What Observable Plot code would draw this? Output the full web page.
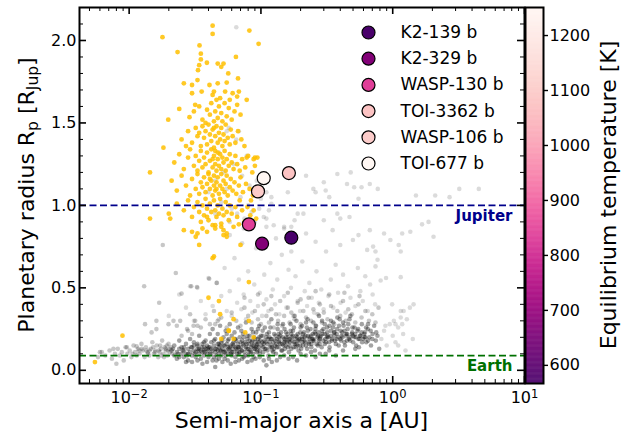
<!DOCTYPE html>
<html>
<head>
<meta charset="utf-8">
<script src="https://cdn.jsdelivr.net/npm/d3@7"></script>
<script src="https://cdn.jsdelivr.net/npm/@observablehq/plot@0.6"></script>
<style>
  html, body { margin: 0; padding: 0; background: white; }
  #wrap { position: relative; width: 631px; height: 432px; }
  #cbar { position: absolute; left: 524px; top: 0; }
</style>
</head>
<body>
<div id="wrap"><div id="main"></div><div id="cbar"></div></div>
<script>
// ---------- highlighted planets ----------
const planetNames = ["K2-139 b", "K2-329 b", "WASP-130 b", "TOI-3362 b", "WASP-106 b", "TOI-677 b"];
const planetA     = [0.170, 0.102, 0.081, 0.163, 0.095, 0.105];
const planetR     = [0.804, 0.768, 0.885, 1.196, 1.085, 1.165];
const planetTeq   = [567, 665, 840, 1080, 1105, 1251];

// ---------- tick values / labels ----------
const xMajor = [0.01, 0.1, 1, 10];
const xMajorLabels = [["10", "−2"], ["10", "−1"], ["10", "0"], ["10", "1"]];
const yMajor = [0, 0.5, 1.0, 1.5, 2.0];
const yMajorLabels = ["0.0", "0.5", "1.0", "1.5", "2.0"];
const cbTicks = [600, 700, 800, 900, 1000, 1100, 1200];
const refLines = [1.0, 0.0892];
const refNames = ["Jupiter", "Earth"];

// ---------- background population (gray) [a AU, Rp RJup] ----------
const grayTail = [
[.0058,.08],[.0060,.11],[.0062,.11],[.0066,.09],[.0071,.12],[.0074,.07],[.0076,.13],[.0078,.10],[.0080,.04],[.0082,.13],
[.0085,.09],[.0088,.11],[.0091,.06],[.0094,.14],[.0096,.14],[.0097,.10],[.0101,.12],[.0104,.08],[.0108,.15],[.0111,.11],
[.0114,.09],[.0114,.145],[.0117,.13],[.0120,.10],[.0124,.16],[.0127,.12],[.0131,.08],[.0134,.14],[.0138,.11],[.0142,.09],
[.0146,.13],[.0150,.17],[.0154,.10],[.0158,.12],[.0162,.15],[.0166,.08],[.0170,.11],[.0174,.13],[.0178,.18],[.0182,.10],
[.0186,.14],[.0190,.12],[.0195,.09],[.0199,.16],[.0204,.11],[.0132,.28],[.0161,.30],[.0161,.25],[.0148,.23],[.0199,.28],
[.0230,.27],[.0217,.30],[.0244,.30],[.0290,.34],[.0317,.30],[.0308,.27],[.0275,.25],[.0180,.76],[.0226,.59],[.0130,.51],
[.0169,.41],[.0250,.465],[.0296,.51],[.0327,.505],[.0405,.555],[.0463,.53],
[.0135,.12],[.0152,.14],[.0168,.12],[.0176,.09],[.0188,.13],[.0193,.15],[.0201,.13],[.0157,.11],[.0143,.12],[.0125,.13],
[.0106,.10],[.0119,.12],[.0139,.10],[.0172,.15],[.0184,.08],[.0197,.12],[.0208,.14],[.0212,.10]
];
const grayCore = [
[.021,.12],[.022,.09],[.022,.15],[.023,.11],[.023,.07],[.024,.13],[.024,.18],[.025,.10],[.025,.14],[.026,.08],
[.026,.12],[.027,.16],[.027,.10],[.028,.13],[.028,.06],[.029,.11],[.029,.19],[.030,.09],[.030,.14],[.031,.12],
[.031,.17],[.032,.08],[.032,.11],[.033,.15],[.033,.13],[.034,.10],[.034,.21],[.035,.12],[.035,.07],[.036,.16],
[.036,.11],[.037,.14],[.037,.09],[.038,.13],[.038,.18],[.039,.10],[.039,.15],[.040,.12],[.040,.08],[.041,.22],
[.0215,.13],[.0235,.10],[.0255,.12],[.0275,.09],[.0295,.14],[.0315,.10],[.0335,.12],[.0355,.14],[.0375,.11],[.0395,.13],
[.041,.14],[.042,.10],[.042,.17],[.043,.12],[.043,.25],[.044,.08],[.044,.15],[.045,.11],[.045,.19],[.046,.13],
[.046,.06],[.047,.16],[.047,.22],[.048,.10],[.048,.14],[.049,.12],[.049,.27],[.050,.17],[.050,.09],[.051,.13],
[.052,.20],[.052,.11],[.053,.15],[.053,.07],[.054,.12],[.054,.24],[.055,.16],[.056,.10],[.056,.14],[.057,.19],
[.058,.12],[.058,.28],[.059,.15],[.060,.09],[.060,.21],[.061,.13],[.062,.17],[.062,.11],[.063,.23],[.064,.14],
[.064,.08],[.065,.18],[.066,.12],[.067,.16],[.067,.26],[.068,.10],[.069,.20],[.070,.14],[.071,.12],[.072,.18],
[.072,.07],[.073,.22],[.074,.15],[.075,.11],[.076,.17],[.077,.29],[.078,.13],[.079,.19],[.080,.09],[.081,.16],
[.082,.21],[.083,.12],[.084,.14],[.085,.25],[.086,.18],[.087,.10],[.088,.15],[.089,.20],[.090,.13],[.091,.17],
[.092,.23],[.093,.11],[.094,.16],[.095,.19],[.096,.14],[.097,.27],[.098,.12],[.099,.18],
[.101,.15],[.103,.21],[.104,.11],[.106,.18],[.107,.26],[.109,.13],[.110,.20],[.112,.16],[.114,.09],[.115,.23],
[.117,.14],[.119,.19],[.120,.31],[.122,.12],[.124,.17],[.126,.22],[.128,.15],[.130,.10],[.132,.19],[.134,.25],
[.136,.14],[.138,.18],[.140,.21],[.143,.12],[.145,.16],[.147,.28],[.150,.19],[.152,.13],[.155,.23],[.157,.17],
[.160,.20],[.163,.11],[.165,.15],[.168,.24],[.171,.18],[.174,.21],[.177,.14],[.180,.33],[.183,.19],[.186,.16],
[.190,.22],[.193,.12],[.196,.18],[.200,.26],[.204,.20],[.208,.15],[.212,.23],[.216,.17],[.220,.29],[.224,.13],
[.228,.21],[.233,.19],[.238,.25],[.242,.16],[.247,.22],[.252,.18],[.257,.12],[.262,.27],[.268,.20],[.273,.23],
[.279,.16],[.285,.21],[.291,.30],[.297,.18],
[.105,.16],[.113,.19],[.121,.14],[.129,.21],[.137,.17],[.146,.20],[.154,.15],[.162,.18],[.170,.22],[.179,.17],
[.188,.20],[.198,.15],[.206,.19],[.218,.21],[.231,.17],[.245,.19],[.260,.22],[.275,.18],[.290,.24],
[.305,.22],[.312,.17],[.318,.26],[.325,.20],[.332,.14],[.339,.24],[.346,.19],[.354,.29],[.362,.21],[.370,.16],
[.378,.25],[.387,.20],[.396,.31],[.405,.18],[.414,.23],[.424,.27],[.434,.15],[.444,.21],[.455,.25],[.466,.19],
[.477,.33],[.489,.22],[.501,.17],[.513,.26],[.526,.20],[.540,.24],[.554,.14],[.568,.21],[.583,.28],[.598,.19],
[.614,.23],[.630,.17],[.647,.25],[.665,.20],[.684,.15],[.703,.22],[.723,.27],[.744,.18],[.766,.21],[.790,.13],
[.32,.21],[.36,.23],[.40,.19],[.45,.22],[.50,.21],[.56,.19],[.62,.20],[.68,.24],
[.042,.13],[.044,.18],[.046,.09],[.048,.16],[.050,.12],[.052,.15],[.054,.09],[.056,.18],[.058,.14],[.060,.11],
[.062,.15],[.064,.19],[.066,.10],[.068,.14],[.070,.17],[.072,.12],[.074,.20],[.076,.09],[.078,.16],[.080,.13],
[.082,.18],[.084,.11],[.086,.15],[.088,.08],[.090,.19],[.092,.14],[.094,.12],[.096,.17],[.098,.10],[.100,.21],
[.104,.14],[.108,.17],[.112,.12],[.116,.20],[.120,.15],[.124,.11],[.128,.18],[.132,.14],[.136,.22],[.140,.16],
[.145,.12],[.150,.17],[.155,.20],[.160,.14],[.165,.19],[.170,.13],[.175,.24],[.180,.16],[.185,.21],[.190,.15],
[.196,.19],[.202,.13],[.208,.22],[.214,.18],[.220,.15],[.227,.24],[.234,.20],[.241,.14],[.248,.18],[.256,.23],
[.264,.16],[.272,.21],[.280,.19],[.289,.14],[.298,.25],[.308,.19],[.318,.23],[.329,.17],[.340,.21],[.352,.26],
[.364,.18],[.376,.22],[.389,.15],[.402,.24],[.416,.20],[.430,.17],[.445,.22],[.460,.28],[.476,.18],[.493,.23],
[.510,.20],[.528,.15],[.547,.25],[.566,.21],[.586,.17],[.607,.22],[.628,.26],[.650,.18],
[.033,.16],[.037,.12],[.041,.10],[.045,.13],[.049,.15],[.053,.11],[.057,.13],[.061,.16],[.065,.13],[.069,.11],
[.073,.16],[.077,.14],[.081,.11],[.085,.17],[.089,.13],[.093,.15],[.097,.20],[.102,.17],[.107,.13],[.111,.22],
[.116,.17],[.121,.19],[.126,.13],[.131,.16],[.137,.20],[.142,.23],[.148,.15],[.153,.18],[.159,.22],[.166,.17],
[.172,.20],[.178,.26],[.184,.14],[.191,.18],[.199,.23],[.207,.17],[.215,.20],[.223,.26],[.232,.16],[.241,.21],
[.250,.19],[.259,.25],[.270,.15],[.281,.20],[.293,.22],[.305,.16],[.318,.20],[.331,.27],[.345,.18],[.360,.23],
[.375,.19],[.392,.27],[.410,.21],[.430,.24],[.450,.18],[.472,.20],[.495,.26],[.520,.22],[.550,.19],[.580,.23],
[.610,.20],[.650,.28],[.700,.19],[.750,.23],
[.055,.22],[.063,.19],[.071,.24],[.079,.21],[.087,.23],[.095,.25],[.103,.24],[.118,.26],[.134,.28],[.151,.25],
[.168,.28],[.186,.30],[.205,.27],[.226,.31],[.250,.29],[.276,.33],[.305,.28],[.340,.30],[.380,.32],[.420,.29],[.470,.31],
[.026,.14],[.028,.10],[.031,.15],[.034,.13],[.037,.17],[.040,.14],[.047,.12],[.051,.18],[.059,.10],[.067,.14],
[.030,.05],[.036,.04],[.043,.06],[.051,.05],[.059,.04],[.068,.06],[.079,.05],[.091,.07],[.105,.06],[.121,.05],
[.140,.08],[.162,.07],[.188,.06],[.220,.09],[.260,.08],[.310,.10],[.370,.09],[.045,.02],[.110,.03],
[.024,.08],[.027,.05],[.033,.06],[.039,.05],[.048,.07],[.056,.06],[.064,.05],[.074,.08],[.085,.06],[.098,.08],
[.115,.07],[.132,.06],[.150,.09],[.175,.08],[.200,.10],[.240,.11],[.280,.10],[.330,.12],[.420,.12],[.520,.13]
];
const grayMid = [
[.045,.28],[.050,.32],[.055,.26],[.060,.35],[.065,.30],[.070,.27],[.075,.38],[.080,.33],[.085,.29],[.090,.36],
[.095,.31],[.100,.28],[.105,.40],[.110,.33],[.115,.29],[.120,.37],[.125,.26],[.130,.34],[.135,.30],[.140,.42],
[.145,.27],[.150,.33],[.160,.38],[.165,.29],[.170,.35],[.180,.31],[.190,.41],[.200,.28],[.210,.36],[.220,.32],
[.230,.44],[.240,.30],[.250,.37],[.260,.27],[.270,.34],[.280,.40],[.290,.29],[.300,.35],[.320,.31],[.340,.39],
[.360,.28],[.380,.36],[.400,.33],[.420,.42],[.440,.30],[.460,.37],[.490,.34],[.520,.29],[.550,.40],[.580,.32],
[.620,.36],[.660,.30],[.700,.34],[.740,.29],[.780,.38],
[.035,.26],[.038,.31],[.041,.28],[.044,.36],[.047,.30],[.030,.22],[.025,.21],[.028,.24],[.033,.27],
[.120,.45],[.160,.47],[.200,.43],[.260,.48],[.330,.46],[.430,.47],[.560,.45],[.095,.46],[.075,.44]
];
const graySparse = [
[.020,.33],[.024,.46],[.027,.38],[.029,.51],[.031,.30],[.033,.50],[.035,.42],[.038,.34],[.040,.56],[.043,.39],
[.046,.53],[.048,.31],[.050,.45],[.053,.62],[.055,.36],[.058,.48],[.060,.33],[.063,.68],[.066,.41],[.068,.55],
[.071,.37],[.074,.46],[.077,.31],[.080,.60],[.083,.42],[.086,.35],[.089,.52],[.092,.74],[.095,.39],[.098,.47],
[.102,.33],[.106,.58],[.110,.43],[.114,.36],[.118,.65],[.123,.49],[.128,.40],[.133,.55],[.138,.34],[.144,.70],
[.150,.45],[.156,.38],[.162,.61],[.169,.50],[.176,.33],[.183,.57],[.190,.42],[.198,.36],[.206,.66],[.215,.48],
[.224,.39],[.233,.53],[.243,.44],[.253,.35],[.264,.60],[.275,.41],[.287,.49],[.299,.37],[.312,.72],[.325,.45],
[.339,.55],[.354,.38],[.369,.64],[.385,.47],[.402,.41],[.420,.58],[.439,.35],[.458,.51],[.478,.44],[.499,.79],
[.521,.39],[.544,.62],[.568,.48],[.593,.42],[.619,.57],[.646,.36],[.674,.52],[.704,.46],[.735,.40],[.767,.67],
[.058,.82],[.072,.77],[.085,.88],[.110,.92],[.130,.80],[.150,.86],[.170,.72],[.190,.95],[.220,.83],[.260,.78],
[.300,.91],[.350,.85],[.400,.76],[.470,.93],[.550,.82],[.640,.73],[.670,.85],[.710,.75],[.740,.72],[.740,.63],
[.860,.83],[.960,.79],[1.11,.76],[1.15,.72],[1.18,.83],[1.36,.84],[1.67,.885],[1.87,.90],[2.04,.81],[.890,.56],
[.810,.545],[1.15,.565],[.990,.40],[1.44,.40],[1.21,.36],[1.15,.32],[1.02,.30],[1.05,.28],[1.18,.28],[.880,.27],
[.82,.19],[.86,.24],[.90,.15],[.95,.28],[1.00,.21],[1.05,.17],[1.10,.26],[1.15,.36],[1.20,.22],[1.28,.31],
[1.35,.38],[1.42,.19],[1.10,.15],[1.25,.12]
];
const grayGiants = [
[.045,.95],[.050,1.02],[.055,1.10],[.060,.98],[.062,1.25],[.065,1.40],[.068,1.45],[.070,1.05],[.072,1.18],[.075,.92],
[.078,1.30],[.080,1.00],[.082,1.12],[.085,.96],[.088,1.07],[.090,.90],[.093,1.15],[.097,.98],[.100,1.04],[.105,.93],
[.110,1.08],[.115,.97],[.120,1.01],[.125,.88],[.058,.90],[.066,.95],[.074,.86],[.052,1.20],[.048,1.32],[.040,1.08],
[.045,1.15],[.055,1.45],[.057,1.47],[.065,2.08],
[.22,1.18],[.38,1.19],[.48,1.20],[.30,1.14],[.31,1.09],[.51,1.11],[.58,1.11],[.38,.95],[.40,.92],[.21,.95],
[.18,.91],[.17,.87],[.15,.87],[.11,.87],[.12,1.05],[.16,1.08],[.55,1.04],[.67,1.13],
[.25,1.10],[.26,1.08],[.33,1.05],[.45,1.13],[1.50,1.06],[3.20,1.10],[.77,1.10],[2.10,1.06],[2.70,1.05],[4.50,1.10]
];

// ---------- hot Jupiters (yellow) [a AU, Rp RJup] ----------
const yellowOther = [
[.0055,.05],[.0089,.21],[.0144,1.20],[.0144,.92],[.0182,1.35],[.0205,.92],[.0179,2.02],[.0233,1.93],[.0198,1.52],[.024,1.585],
[.0287,1.535],[.026,1.74],[.030,1.73],[.030,1.68],[.0317,1.61],[.0333,1.82],[.033,1.76],[.0342,1.97],[.035,1.92],[.035,1.885],
[.034,1.85],[.0389,1.865],[.043,2.09],[.043,2.04],[.0817,2.06],[.096,1.98],[.047,1.86],[.052,1.86],[.050,1.84],[.0646,1.90],
[.0565,1.80],[.067,1.77],[.0407,1.73],[.047,1.74],[.055,1.745],[.0355,1.69],[.044,1.69],[.043,1.67],[.0535,1.69],[.061,1.68],
[.066,1.66],[.068,1.69],[.078,1.64],
[.034,.76],[.044,.69],[.043,.68],[.040,.44],[.048,.42],[.049,.34],[.057,.24],[.050,.19],
[.026,.85],[.030,.84],[.033,.83],[.036,.86],[.039,.84],[.032,.81],[.045,.88],[.052,.85],[.055,.83],
[.052,.82],[.055,.81],[.070,.76],[.081,.535],[.062,.31],[.081,.30],[.057,.24],[.076,.23],[.088,.20],[.062,.19],
[.050,.87],[.068,.885],[.078,1.29],[.090,1.29],[.090,1.24],[.086,1.20],[.084,1.03]
];
const yellowHJ = [
[.036,1.52],[.039,1.58],[.041,1.55],[.042,1.62],[.044,1.51],[.045,1.57],[.046,1.64],[.047,1.53],[.048,1.60],[.050,1.56],
[.051,1.51],[.053,1.62],[.055,1.54],[.057,1.59],[.060,1.52],[.063,1.57],[.066,1.61],[.034,1.60],[.038,1.50],[.049,1.65],
[.031,1.57],[.058,1.64],[.070,1.55],
[.025,1.40],[.028,1.45],[.030,1.38],[.032,1.47],[.033,1.42],[.035,1.36],[.036,1.48],[.037,1.41],[.038,1.45],[.039,1.37],
[.040,1.49],[.041,1.43],[.042,1.39],[.043,1.46],[.044,1.35],[.045,1.42],[.046,1.48],[.047,1.38],[.048,1.44],[.049,1.40],
[.050,1.47],[.051,1.36],[.052,1.43],[.053,1.39],[.054,1.49],[.056,1.41],[.058,1.37],[.059,1.46],[.061,1.42],[.064,1.38],
[.067,1.45],[.071,1.40],[.075,1.36],[.027,1.36],[.034,1.44],[.044,1.47],
[.022,1.26],[.024,1.31],[.026,1.22],[.028,1.29],[.029,1.34],[.031,1.24],[.032,1.30],[.033,1.21],[.034,1.27],[.035,1.33],
[.036,1.23],[.037,1.29],[.038,1.25],[.039,1.32],[.040,1.20],[.041,1.27],[.042,1.34],[.043,1.23],[.044,1.30],[.045,1.25],
[.045,1.33],[.046,1.21],[.047,1.28],[.048,1.24],[.049,1.31],[.050,1.22],[.051,1.29],[.052,1.26],[.053,1.33],[.054,1.21],
[.055,1.28],[.057,1.24],[.058,1.31],[.060,1.26],[.062,1.22],[.064,1.30],[.066,1.25],[.069,1.21],[.072,1.28],[.076,1.23],
[.080,1.30],[.088,1.28],[.094,1.29],[.043,1.28],[.047,1.32],
[.021,1.15],[.023,1.09],[.025,1.18],[.027,1.12],[.029,1.06],[.030,1.16],[.032,1.10],[.033,1.19],[.034,1.07],[.035,1.14],
[.036,1.11],[.037,1.17],[.038,1.08],[.039,1.13],[.040,1.19],[.041,1.10],[.042,1.15],[.043,1.06],[.044,1.12],[.044,1.18],
[.045,1.09],[.046,1.14],[.047,1.17],[.048,1.07],[.049,1.12],[.050,1.19],[.051,1.10],[.052,1.15],[.053,1.08],[.054,1.13],
[.055,1.18],[.056,1.06],[.058,1.11],[.059,1.16],[.061,1.09],[.063,1.14],[.065,1.07],[.068,1.12],[.070,1.17],[.073,1.08],
[.077,1.13],[.082,1.10],[.087,1.06],[.046,1.10],[.041,1.16],
[.020,.95],[.023,1.01],[.026,.97],[.028,1.03],[.030,.93],[.031,.99],[.033,1.02],[.034,.96],[.035,.90],[.036,1.00],
[.037,.94],[.038,1.04],[.039,.98],[.040,.91],[.041,1.01],[.042,.96],[.043,.88],[.044,1.03],[.045,.97],[.046,.93],
[.047,1.00],[.048,.95],[.049,1.04],[.050,.89],[.051,.98],[.052,.94],[.054,1.02],[.055,.96],[.057,.91],[.058,1.00],
[.060,.95],[.062,.87],[.064,.99],[.066,.93],[.069,1.03],[.072,.97],[.075,.90],[.079,.99],[.083,.94],[.088,.97],
[.092,.92],[.039,.93],[.045,.86]
];

// ---------- build ----------
const graySoft = [...graySparse, ...grayGiants];
const yellow = [...yellowOther, ...yellowHJ];
const planets = planetNames.map((name, i) => ({name, a: planetA[i], r: planetR[i], teq: planetTeq[i]}));
const refs = refLines.map((v, i) => ({v, name: refNames[i]}));

const W = 631, H = 432, mL = 79, mR = 107, mT = 7, mB = 49;
const fw = W - mL - mR, fh = H - mT - mB;
const tDomain = [567, 1251];
const colorOpts = {scheme: "RdPu", reverse: true, domain: tDomain};

const xMinor = [];
for (const d of [0.001, 0.01, 0.1, 1]) for (let k = 2; k <= 9; k++) { const v = d * k; if (v >= 0.0042 && v <= 10) xMinor.push(v); }
const yMinor = [];
for (let k = 0; k <= 22; k++) if (k % 5 !== 0) yMinor.push(k / 10);

const legendMarks = [];
planets.forEach((p, i) => {
  const dy = 25 + i * 26.2;
  legendMarks.push(Plot.dot([p], {frameAnchor: "top-left", dx: 289, dy, r: 6.5, fill: "teq", stroke: "black", strokeWidth: 1.2}));
  legendMarks.push(Plot.text([p], {frameAnchor: "top-left", dx: 321, dy, text: "name", textAnchor: "start", lineAnchor: "middle", fontSize: 17, fill: "black"}));
});

const gdot = (data, op) => Plot.dot(data, {x: d => d[0], y: d => d[1], r: 2.3, fill: "black", fillOpacity: op});

const main = Plot.plot({
  width: W, height: H, marginLeft: mL, marginRight: mR, marginTop: mT, marginBottom: mB,
  style: {fontFamily: "DejaVu Sans", fontSize: "16px", background: "white", color: "black", overflow: "visible"},
  x: {type: "log", domain: [0.0042, 10]},
  y: {domain: [-0.08, 2.2]},
  color: colorOpts,
  marks: [
    gdot(graySoft, 0.14),
    gdot(grayTail, 0.22),
    gdot(grayMid, 0.22),
    gdot(grayCore, 0.36),
    Plot.dot(yellow, {x: d => d[0], y: d => d[1], r: 2.4, fill: "#ffc000", fillOpacity: 0.85}),
    Plot.ruleY([refs[0]], {y: "v", stroke: "#00008b", strokeWidth: 1.8, strokeDasharray: "7,3.5"}),
    Plot.ruleY([refs[1]], {y: "v", stroke: "#007000", strokeWidth: 1.8, strokeDasharray: "7,3.5"}),
    Plot.text([refs[0]], {y: "v", text: "name", frameAnchor: "right", textAnchor: "end", dx: -12, dy: 11, fill: "#00008b", fontWeight: "bold", fontSize: 15}),
    Plot.text([refs[1]], {y: "v", text: "name", frameAnchor: "right", textAnchor: "end", dx: -12, dy: 11, fill: "#007000", fontWeight: "bold", fontSize: 15}),
    Plot.dot(planets, {x: "a", y: "r", r: 6.5, fill: "teq", stroke: "black", strokeWidth: 1.2}),
    ...legendMarks,
    // inward ticks
    Plot.ruleX(xMajor, {x: d => d, insetTop: fh - 7, stroke: "black", strokeWidth: 1.6}),
    Plot.ruleX(xMajor, {x: d => d, insetBottom: fh - 7, stroke: "black", strokeWidth: 1.6}),
    Plot.ruleX(xMinor, {x: d => d, insetTop: fh - 4, stroke: "black", strokeWidth: 1}),
    Plot.ruleX(xMinor, {x: d => d, insetBottom: fh - 4, stroke: "black", strokeWidth: 1}),
    Plot.ruleY(yMajor, {y: d => d, insetRight: fw - 7, stroke: "black", strokeWidth: 1.6}),
    Plot.ruleY(yMajor, {y: d => d, insetLeft: fw - 7, stroke: "black", strokeWidth: 1.6}),
    Plot.ruleY(yMinor, {y: d => d, insetRight: fw - 4, stroke: "black", strokeWidth: 1}),
    Plot.ruleY(yMinor, {y: d => d, insetLeft: fw - 4, stroke: "black", strokeWidth: 1}),
    Plot.frame({stroke: "black", strokeWidth: 2}),
    Plot.axisY({ticks: yMajor, tickSize: 0, tickPadding: 3, tickFormat: d => yMajorLabels[yMajor.indexOf(d)], fontSize: 16, label: null}),
    Plot.axisX({ticks: xMajor, tickSize: 0, tickPadding: 8, tickFormat: d => xMajorLabels[xMajor.indexOf(d)].join("^"), fontSize: 16, label: null})
  ]
});
document.getElementById("main").appendChild(main);

// superscripts on x tick labels
d3.select(main).selectAll("text").each(function() {
  const t = this.textContent;
  if (/^10\^/.test(t)) {
    const [base, ex] = t.split("^");
    const sel = d3.select(this);
    sel.text(null);
    sel.append("tspan").text(base);
    sel.append("tspan").attr("dy", "-0.42em").attr("font-size", "0.72em").text(ex);
  }
});

// axis titles
const ms = d3.select(main);
const ylab = ms.append("text").attr("transform", "translate(33.5,195) rotate(-90)")
  .attr("text-anchor", "middle").attr("font-family", "DejaVu Sans").attr("font-size", 22).attr("fill", "black");
ylab.append("tspan").text("Planetary radius R");
ylab.append("tspan").attr("dy", 4.5).attr("font-size", 15.5).text("p");
ylab.append("tspan").attr("dy", -4.5).text(" [R");
ylab.append("tspan").attr("dy", 4.5).attr("font-size", 15.5).text("Jup");
ylab.append("tspan").attr("dy", -4.5).text("]");
ms.append("text").attr("x", 301.5).attr("y", 428).attr("text-anchor", "middle")
  .attr("font-family", "DejaVu Sans").attr("font-size", 22).attr("fill", "black").text("Semi-major axis a [AU]");

// ---------- colorbar ----------
const steps = d3.range(tDomain[0], tDomain[1], 1);
const cbar = Plot.plot({
  width: 107, height: H, marginLeft: 1, marginRight: 88, marginTop: mT, marginBottom: mB,
  style: {fontFamily: "DejaVu Sans", fontSize: "16px", background: "transparent", color: "black", overflow: "visible"},
  y: {domain: tDomain},
  color: colorOpts,
  marks: [
    Plot.rect(steps, {y1: d => d, y2: d => Math.min(d + 1.5, tDomain[1]), fill: d => d}),
    Plot.frame({stroke: "black", strokeWidth: 2}),
    Plot.axisY({anchor: "right", ticks: cbTicks, tickSize: 4, tickPadding: 2, tickFormat: d => String(d), fontSize: 16, label: null, strokeWidth: 1.4})
  ]
});
document.getElementById("cbar").appendChild(cbar);
d3.select(cbar).append("text").attr("transform", "translate(92,195) rotate(-90)")
  .attr("text-anchor", "middle").attr("font-family", "DejaVu Sans").attr("font-size", 22).attr("fill", "black")
  .text("Equilibrium temperature [K]");
</script>
</body>
</html>
